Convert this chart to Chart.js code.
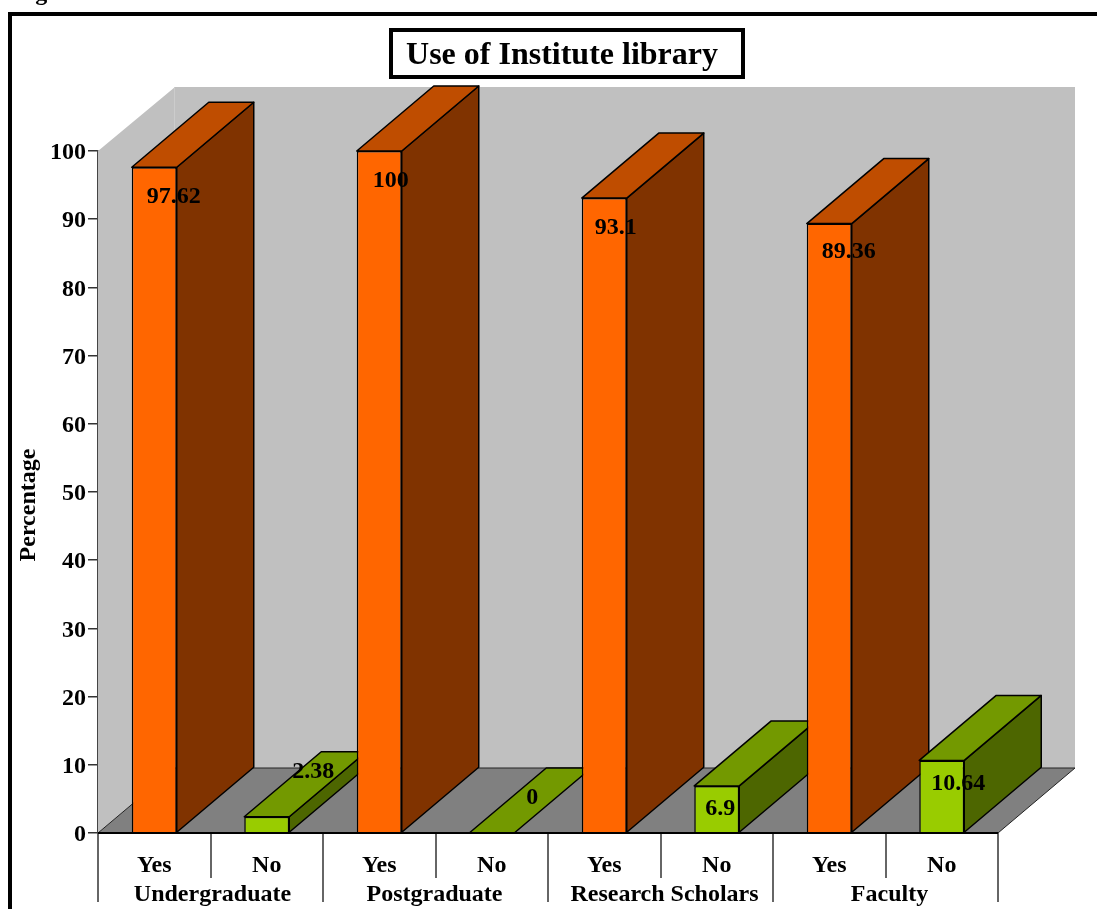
<!DOCTYPE html>
<html>
<head>
<meta charset="utf-8">
<title>Use of Institute library</title>
<script src="https://cdn.jsdelivr.net/npm/chart.js@4"></script>
<style>
    html, body { margin: 0; padding: 0; background: #fff; overflow: hidden; }
    #library-chart { display: block; }
</style>
</head>
<body>
<canvas id="library-chart" width="1097" height="909"></canvas>
<script>
// Chart data
const groups = ['Undergraduate', 'Postgraduate', 'Research Scholars', 'Faculty'];
const answers = ['Yes', 'No', 'Yes', 'No', 'Yes', 'No', 'Yes', 'No'];
const values = [97.62, 2.38, 100, 0, 93.1, 6.9, 89.36, 10.64];
const yTicks = [0, 10, 20, 30, 40, 50, 60, 70, 80, 90, 100];

// Label placement relative to each bar's front top left corner
const labelShiftX = [15, 48, 16, 57, 13, 11, 15, 12];
const labelShiftY = [30, -45, 30, -35, 30, 23, 28, 23];
const groupShiftX = [2, -1, 4, 4];

const FONT = '"Liberation Serif", "Times New Roman", serif';
const DEPTH_X = 77;
const DEPTH_Y = 65;

const frontColors = ['#ff6600', '#99cc00'];
const topColors = ['#bf4d00', '#739900'];
const sideColors = ['#803300', '#4d6600'];

function polygon(ctx, points, fill, stroke, width) {
    ctx.beginPath();
    points.forEach(function(p, i) {
        if (i === 0) ctx.moveTo(p[0], p[1]);
        else ctx.lineTo(p[0], p[1]);
    });
    ctx.closePath();
    if (fill) {
        ctx.fillStyle = fill;
        ctx.fill();
    }
    if (stroke) {
        ctx.strokeStyle = stroke;
        ctx.lineWidth = width;
        ctx.lineJoin = 'round';
        ctx.stroke();
    }
}

// Walls, floor and the depth faces of the bars go under the regular bars
const box3d = {
    id: 'box3d',
    beforeDatasetsDraw: function(chart) {
        const ctx = chart.ctx;
        const area = chart.chartArea;
        const dx = DEPTH_X, dy = DEPTH_Y;
        const wallTop = area.top - dy + 1;
        ctx.save();
        polygon(ctx, [
            [area.left, area.bottom], [area.left, area.top],
            [area.left + dx, wallTop], [area.right + dx, wallTop],
            [area.right + dx, area.bottom - dy], [area.left + dx, area.bottom - dy]
        ], '#c0c0c0');
        polygon(ctx, [
            [area.left, area.bottom], [area.right, area.bottom],
            [area.right + dx, area.bottom - dy], [area.left + dx, area.bottom - dy]
        ], '#808080', '#222', 1);

        // faint seam between side wall and back wall
        ctx.strokeStyle = '#cccccc';
        ctx.lineWidth = 1;
        ctx.beginPath();
        ctx.moveTo(area.left + dx - 0.5, wallTop);
        ctx.lineTo(area.left + dx - 0.5, area.bottom - dy);
        ctx.stroke();

        chart.getDatasetMeta(0).data.forEach(function(bar, i) {
            const l = bar.x - bar.width / 2;
            const r = bar.x + bar.width / 2;
            const c = i % 2;
            if (bar.base > bar.y) {
                polygon(ctx, [[r, bar.y], [r + dx, bar.y - dy], [r + dx, bar.base - dy], [r, bar.base]],
                    sideColors[c], '#000', 1.5);
            }
            polygon(ctx, [[l, bar.y], [l + dx, bar.y - dy], [r + dx, bar.y - dy], [r, bar.y]],
                topColors[c], '#000', 1.5);
        });
        ctx.restore();
    },
    afterDatasetsDraw: function(chart) {
        const ctx = chart.ctx;
        const area = chart.chartArea;
        const xScale = chart.scales.x;
        const step = (area.right - area.left) / answers.length;
        ctx.save();

        // value labels
        ctx.fillStyle = '#000';
        ctx.font = 'bold 24px ' + FONT;
        ctx.textAlign = 'left';
        ctx.textBaseline = 'middle';
        chart.getDatasetMeta(0).data.forEach(function(bar, i) {
            ctx.fillText(String(values[i]), bar.x - bar.width / 2 + labelShiftX[i], bar.y + labelShiftY[i]);
        });

        // separators below the axis: short between answers, long between groups
        ctx.strokeStyle = '#333';
        ctx.lineWidth = 1.5;
        for (let i = 0; i <= answers.length; i++) {
            const x = Math.round(area.left + i * step);
            ctx.beginPath();
            ctx.moveTo(x, area.bottom);
            ctx.lineTo(x, area.bottom + (i % 2 ? 45 : 69));
            ctx.stroke();
        }
        ctx.strokeStyle = '#000';
        ctx.lineWidth = 2;
        ctx.beginPath();
        ctx.moveTo(area.left, area.bottom);
        ctx.lineTo(area.right, area.bottom);
        ctx.stroke();

        // group names under the answer labels
        ctx.textAlign = 'center';
        groups.forEach(function(name, i) {
            const x = (xScale.getPixelForValue(i * 2) + xScale.getPixelForValue(i * 2 + 1)) / 2;
            ctx.fillText(name, x + groupShiftX[i], area.bottom + 62);
        });

        // axis name
        ctx.save();
        ctx.translate(29, 505);
        ctx.rotate(-Math.PI / 2);
        ctx.fillText('Percentage', 0, 0);
        ctx.restore();

        // caption above the frame, cut by the page edge
        ctx.textAlign = 'left';
        ctx.textBaseline = 'alphabetic';
        ctx.fillText('Figure : Interest', 14, 0);

        // outer frame
        ctx.strokeStyle = '#000';
        ctx.lineWidth = 4;
        ctx.beginPath();
        ctx.moveTo(10, 909);
        ctx.lineTo(10, 14);
        ctx.lineTo(1097, 14);
        ctx.stroke();

        // heading box
        ctx.textAlign = 'center';
        ctx.textBaseline = 'middle';
        ctx.fillStyle = '#fff';
        ctx.fillRect(391, 30, 352, 47);
        ctx.lineWidth = 4;
        ctx.strokeRect(391, 30, 352, 47);
        ctx.fillStyle = '#000';
        ctx.font = 'bold 32px ' + FONT;
        ctx.fillText('Use of Institute library', 562, 56);
        ctx.restore();
    }
};

new Chart(document.getElementById('library-chart'), {
    type: 'bar',
    data: {
        labels: answers,
        datasets: [{
            data: values,
            barPercentage: 0.4,
            categoryPercentage: 1,
            backgroundColor: values.map(function(v, i) { return frontColors[i % 2]; }),
            borderColor: '#000',
            borderWidth: 1.5
        }]
    },
    options: {
        responsive: false,
        animation: false,
        events: [],
        layout: { padding: { left: 0, right: 99, top: 151, bottom: 0 } },
        plugins: {
            legend: { display: false },
            tooltip: { enabled: false }
        },
        scales: {
            x: {
                grid: { display: false },
                border: { display: false },
                ticks: {
                    color: '#000',
                    padding: 10,
                    maxRotation: 0,
                    autoSkip: false,
                    font: { family: FONT, size: 24, weight: 'bold' }
                },
                afterFit: function(scale) { scale.height = 76; }
            },
            y: {
                min: 0,
                max: 100,
                afterBuildTicks: function(scale) {
                    scale.ticks = yTicks.map(function(v) { return { value: v }; });
                },
                grid: { drawOnChartArea: false, tickLength: 10, color: '#333', lineWidth: 1.5 },
                border: { color: '#444', width: 1.5 },
                ticks: {
                    color: '#000',
                    padding: 2,
                    // blank first line nudges the number down a little
                    callback: function(value) { return ['', String(value)]; },
                    font: { family: FONT, size: 24, weight: 'bold', lineHeight: '4px' }
                },
                afterFit: function(scale) { scale.width = 98; }
            }
        }
    },
    plugins: [box3d]
});
</script>
</body>
</html>
